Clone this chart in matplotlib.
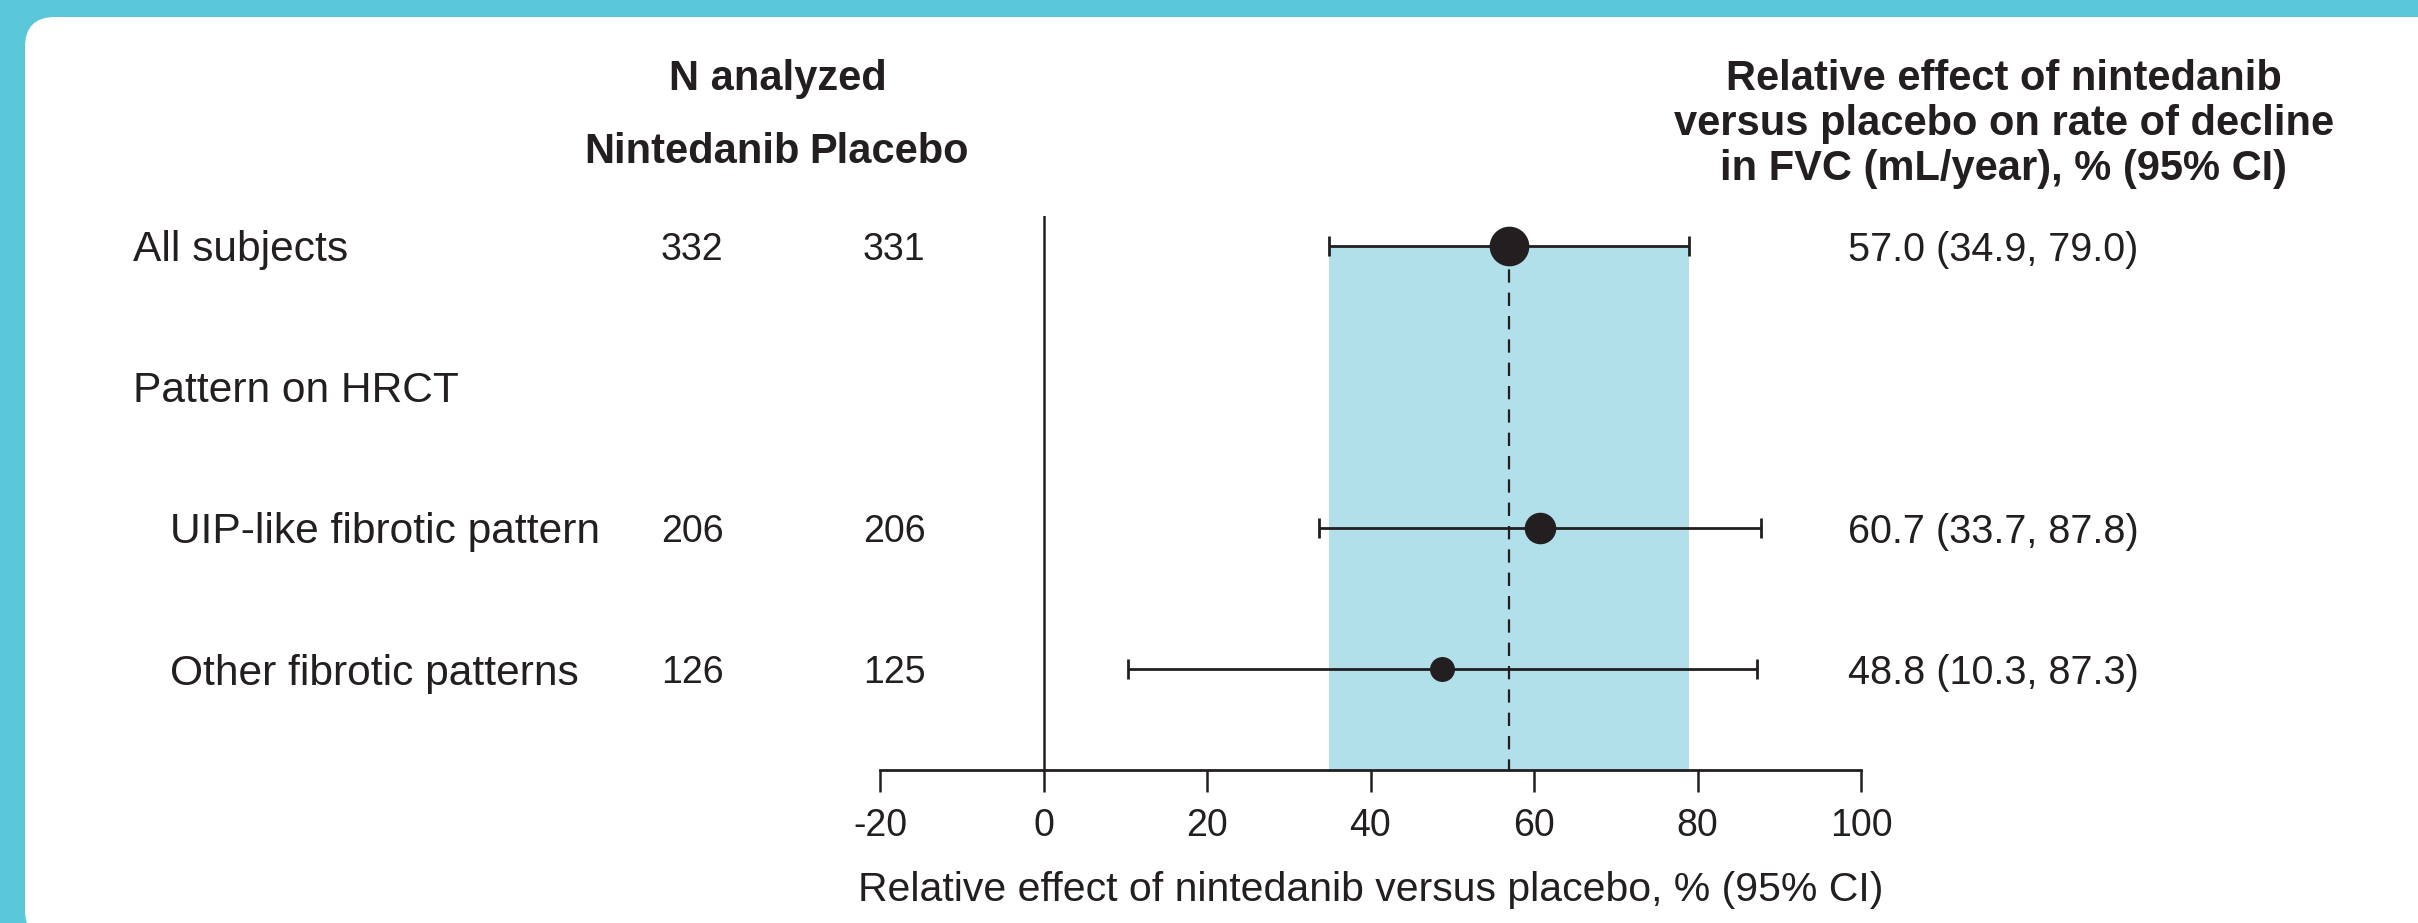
import numpy as np
import matplotlib.pyplot as plt
from matplotlib.patches import FancyBboxPatch
from matplotlib.transforms import blended_transform_factory

plt.rcParams.update({"font.family": ["Liberation Sans", "DejaVu Sans"]})

W, H, DPI = 2418, 923, 100
INK = "#231F20"
TEAL = "#5BC8D9"
BAND = "#B1DFEA"

# --- data ---
row_labels = ["All subjects", "Pattern on HRCT", "UIP-like fibrotic pattern", "Other fibrotic patterns"]
row_indent = [False, False, True, True]
n_nintedanib = [332, None, 206, 126]
n_placebo = [331, None, 206, 125]
effect = [57.0, None, 60.7, 48.8]
ci_low = [34.9, None, 33.7, 10.3]
ci_high = [79.0, None, 87.8, 87.3]
xticks = [-20, 0, 20, 40, 60, 80, 100]
header_right = ["Relative effect of nintedanib",
                "versus placebo on rate of decline",
                "in FVC (mL/year), % (95% CI)"]
xlabel = "Relative effect of nintedanib versus placebo, % (95% CI)"

fig = plt.figure(figsize=(W / DPI, H / DPI), dpi=DPI, facecolor=TEAL)

# background panel, pixel coordinates (y down)
bg = fig.add_axes([0, 0, 1, 1])
bg.set_xlim(0, W)
bg.set_ylim(H, 0)
bg.axis("off")
bg.add_patch(FancyBboxPatch((25, 17), 2600, 923, boxstyle="round,pad=0,rounding_size=30",
                            facecolor="white", edgecolor="none"))

# forest axes
y_top_px, y_axis_px, row0_px, row_step = 216, 770, 246, 141.0
x0_px, x1_px = 880, 1861
ax = fig.add_axes([x0_px / W, 1 - y_axis_px / H, (x1_px - x0_px) / W, (y_axis_px - y_top_px) / H])
ax.patch.set_alpha(0)
y_bottom = (y_axis_px - row0_px) / row_step
ax.set_ylim(y_bottom, (y_top_px - row0_px) / row_step)
ax.set_xlim(-20, 100)

rows = np.arange(len(row_labels))
ok = [i for i in rows if effect[i] is not None]
eff = np.array([effect[i] for i in ok])
lo = np.array([ci_low[i] for i in ok])
hi = np.array([ci_high[i] for i in ok])
ntot = np.array([n_nintedanib[i] + n_placebo[i] for i in ok])

# overall CI band and dashed line from the first (overall) row
ax.fill_betweenx([rows[0], y_bottom], lo[0], hi[0], color=BAND, lw=0, zorder=1)
ax.plot([eff[0], eff[0]], [rows[0], y_bottom], color=INK, lw=1.6, dashes=(6, 4.5), zorder=2)
ax.axvline(0, color=INK, lw=1.8, zorder=2)

ax.errorbar(eff, rows[ok], xerr=[eff - lo, hi - eff], fmt="none", ecolor=INK,
            elinewidth=2.0, capsize=7.5, capthick=2.0, zorder=3)
for x, y, n in zip(eff, rows[ok], ntot):
    ax.plot(x, y, "o", color=INK, markersize=1.07 * np.sqrt(n), zorder=4)

for s in ["top", "left", "right"]:
    ax.spines[s].set_visible(False)
ax.spines["bottom"].set_linewidth(2.0)
ax.spines["bottom"].set_color(INK)
ax.set_yticks([])
ax.set_xticks(xticks)
ax.set_xticklabels([str(t) for t in xticks])
ax.tick_params(axis="x", direction="out", length=16, width=1.8, color=INK,
               labelsize=27, labelcolor=INK, pad=11)
ax.set_xlabel(xlabel, fontsize=29.5, color=INK, labelpad=20)

# table text: x in panel pixels, y in forest rows
tr = blended_transform_factory(bg.transData, ax.transData)
for i, lab in enumerate(row_labels):
    ax.text(170 if row_indent[i] else 133, rows[i], lab, transform=tr, fontsize=30.6,
            color=INK, ha="left", va="center_baseline")
    if n_nintedanib[i] is not None:
        ax.text(692, rows[i], str(n_nintedanib[i]), transform=tr, fontsize=27,
                color=INK, ha="center", va="center_baseline")
        ax.text(894, rows[i], str(n_placebo[i]), transform=tr, fontsize=27,
                color=INK, ha="center", va="center_baseline")
    if effect[i] is not None:
        ax.text(1848, rows[i], f"{effect[i]:.1f} ({ci_low[i]:.1f}, {ci_high[i]:.1f})",
                transform=tr, fontsize=28.5, color=INK, ha="left", va="center_baseline")

# headers
bold = dict(fontsize=30, fontweight="bold", color=INK, ha="center", va="baseline")
bg.text(778, 90, "N analyzed", **bold)
bg.text(692, 163, "Nintedanib", **bold)
bg.text(889, 163, "Placebo", **bold)
for k, line in enumerate(header_right):
    bg.text(2004, 90 + 45 * k, line, **bold)

fig.savefig("out.png", dpi=DPI, facecolor=TEAL)
